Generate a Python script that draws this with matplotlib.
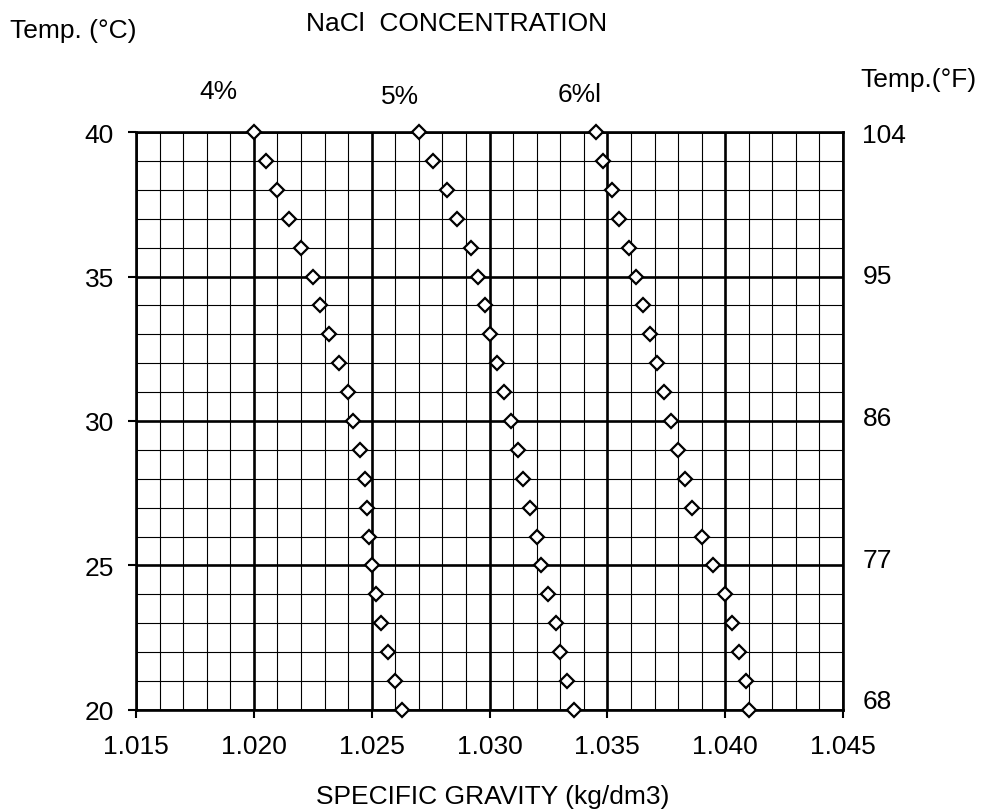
import matplotlib
matplotlib.use("Agg")
import matplotlib.pyplot as plt
from matplotlib.ticker import MultipleLocator, FixedLocator

plt.rcParams['font.family'] = ['Liberation Sans', 'DejaVu Sans']

temps = list(range(40, 19, -1))
sg_4 = [1.0200, 1.0205, 1.0210, 1.0215, 1.0220, 1.0225, 1.0228, 1.0232, 1.0236, 1.0240,
        1.0242, 1.0245, 1.0247, 1.0248, 1.0249, 1.0250, 1.0252, 1.0254, 1.0257, 1.0260, 1.0263]
sg_5 = [1.0270, 1.0276, 1.0282, 1.0286, 1.0292, 1.0295, 1.0298, 1.0300, 1.0303, 1.0306,
        1.0309, 1.0312, 1.0314, 1.0317, 1.0320, 1.0322, 1.0325, 1.0328, 1.0330, 1.0333, 1.0336]
sg_6 = [1.0345, 1.0348, 1.0352, 1.0355, 1.0359, 1.0362, 1.0365, 1.0368, 1.0371, 1.0374,
        1.0377, 1.0380, 1.0383, 1.0386, 1.0390, 1.0395, 1.0400, 1.0403, 1.0406, 1.0409, 1.0410]
series_labels = ['4%', '5%', '6%l']
x_ticks = [1.015, 1.020, 1.025, 1.030, 1.035, 1.040, 1.045]
x_tick_labels = ['1.015', '1.020', '1.025', '1.030', '1.035', '1.040', '1.045']
y_ticks = [20, 25, 30, 35, 40]
f_ticks = [68, 77, 86, 95, 104]

FS = 19

fig = plt.figure(figsize=(9.82, 8.12), dpi=100)
ax = fig.add_axes([0.1385, 0.1244, 0.72, 0.7118])

for sg in (sg_4, sg_5, sg_6):
    ax.plot(sg, temps, linestyle='none', marker='D', markersize=7.5,
            markerfacecolor='white', markeredgecolor='black', markeredgewidth=1.6,
            zorder=5, clip_on=False)

ax.set_xlim(1.015, 1.045)
ax.set_ylim(20, 40)
ax.xaxis.set_major_locator(FixedLocator(x_ticks))
ax.set_xticklabels(x_tick_labels)
ax.xaxis.set_minor_locator(MultipleLocator(0.001))
ax.yaxis.set_major_locator(FixedLocator(y_ticks))
ax.yaxis.set_minor_locator(MultipleLocator(1))
ax.grid(which='major', color='black', linewidth=1.9)
ax.grid(which='minor', color='black', linewidth=0.8)
ax.set_axisbelow(True)
ax.tick_params(which='major', direction='out', length=6, width=1.5, labelsize=FS)
ax.tick_params(axis='y', which='major', pad=10)
ax.tick_params(axis='x', which='major', pad=11)
ax.tick_params(which='minor', length=0)
for s in ax.spines.values():
    s.set_linewidth(1.9)

ax2 = ax.twinx()
ax2.set_ylim(67.3, 104)
ax2.yaxis.set_major_locator(FixedLocator(f_ticks))
ax2.tick_params(direction='out', length=0, labelsize=FS, pad=14)
for s in ax2.spines.values():
    s.set_visible(False)

fig.text(10 / 982, 1 - 31 / 812, 'Temp. (°C)', fontsize=FS, va='center', ha='left')
fig.text(457 / 982, 1 - 24 / 812, 'NaCl  CONCENTRATION', fontsize=FS, va='center', ha='center')
fig.text(918 / 982, 1 - 80 / 812, 'Temp.(°F)', fontsize=FS, va='center', ha='center')
label_pos = [(218, 92), (400, 97), (580, 95)]
for lab, (px, py) in zip(series_labels, label_pos):
    fig.text(px / 982, 1 - py / 812, lab, fontsize=FS, va='center', ha='center')
fig.text(493 / 982, 1 - 797 / 812, 'SPECIFIC GRAVITY (kg/dm3)', fontsize=FS, va='center', ha='center')

fig.savefig('out.png', dpi=100)
